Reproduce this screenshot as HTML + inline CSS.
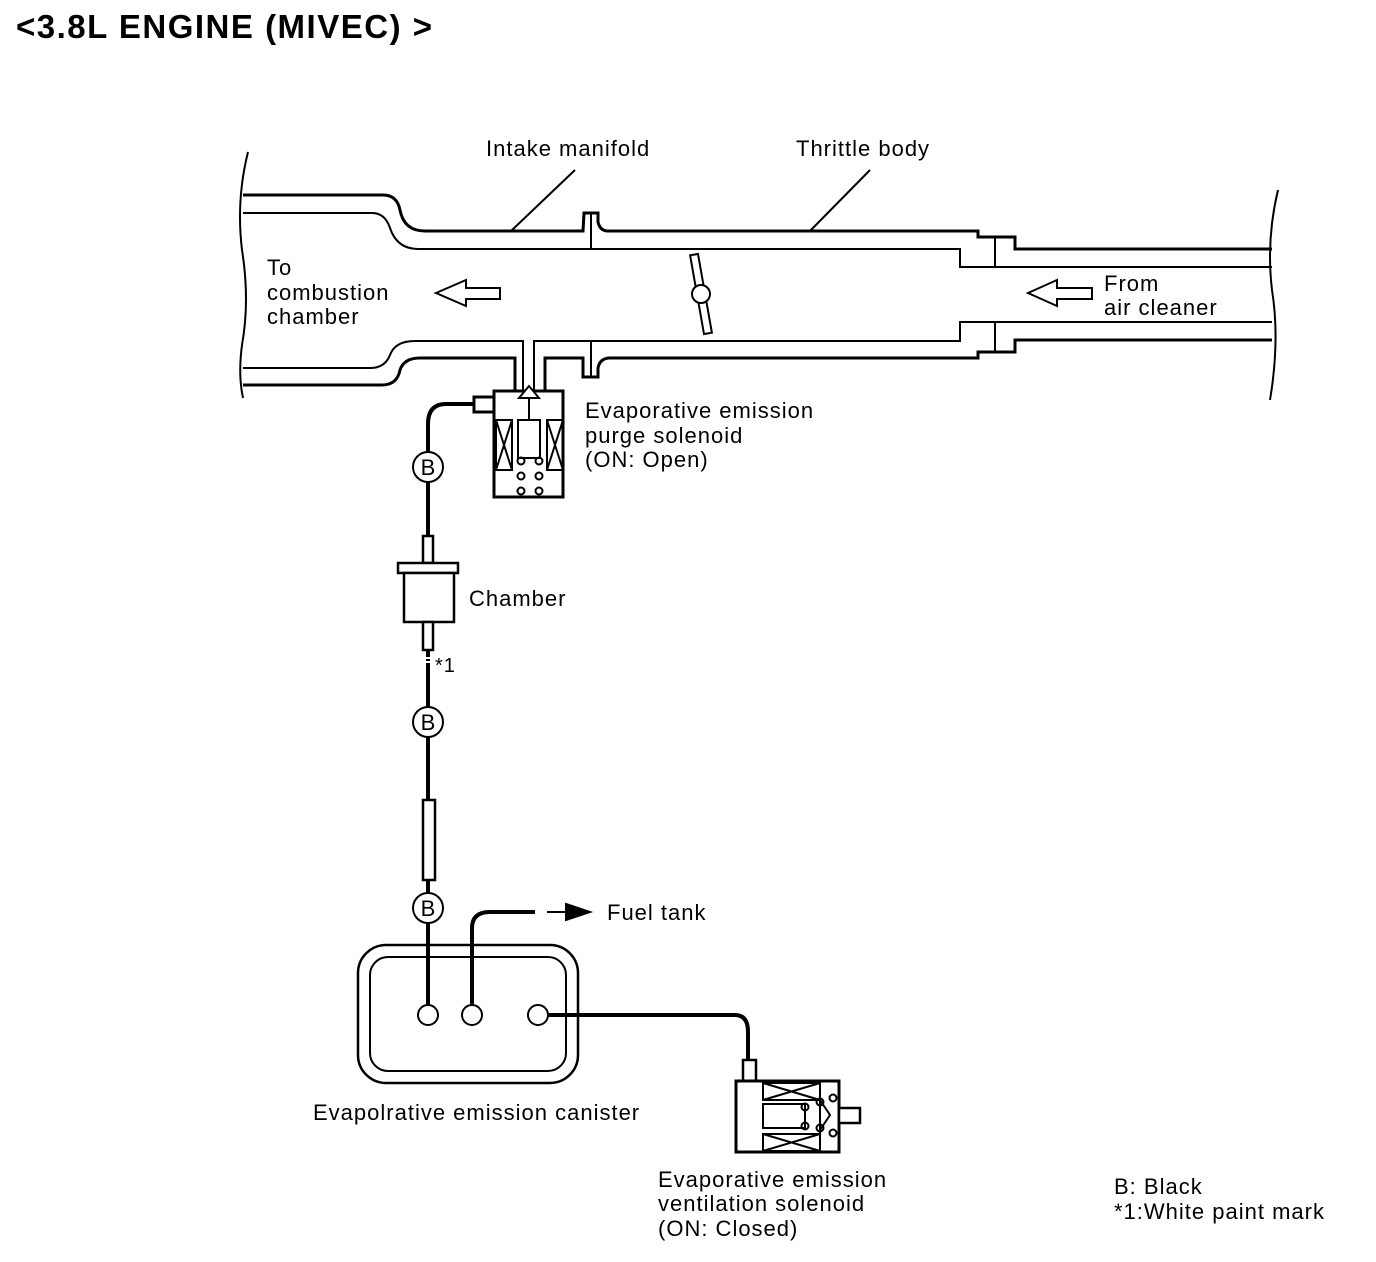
<!DOCTYPE html>
<html><head><meta charset="utf-8"><style>
html,body{margin:0;padding:0;background:#fff;}
svg{display:block;}
text{font-family:"Liberation Sans",Arial,sans-serif;font-size:22px;fill:#000;letter-spacing:1px;}
</style></head><body>
<svg width="1376" height="1262" viewBox="0 0 1376 1262" xmlns="http://www.w3.org/2000/svg">
<text x="16" y="38" style="font-size:33px;font-weight:bold;letter-spacing:1.5px">&lt;3.8L ENGINE (MIVEC) &gt;</text>
<g fill="none" stroke="#000" stroke-width="2">
<path d="M248 152 Q236 200 242 250 Q250 300 242 345 Q238 375 243 398"/>
<path d="M1278 190 Q1266 240 1272 290 Q1280 340 1270 400"/>
<path d="M243 195 L383 195 Q397 195 400 210 Q404 231 425 231 L583 231 Q584 213 584 213 L598 213 L598 222 Q600 231 608 231 L978 231 L978 237 L1015 237 L1015 249 L1272 249" stroke-width="3"/>
<path d="M243 213 L372 213 Q385 213 390 228 Q397 249 418 249 L960 249 L960 267 L1272 267"/>
<line x1="591" y1="213" x2="591" y2="249"/>
<line x1="995" y1="237" x2="995" y2="267"/>
<path d="M243 368 L370 368 Q385 368 390 355 Q395 341 415 341 L523 341 L523 390 M534 390 L534 341 L960 341 L960 322 L1272 322"/>
<path d="M243 385 L382 385 Q397 385 400 370 Q404 358 420 358 L515 358 L515 391 M545 391 L545 358 L583 358 L583 377 L598 377 L598 368 Q600 358 610 358 L978 358 L978 352 L1015 352 L1015 340 L1272 340" stroke-width="3"/>
<line x1="591" y1="341" x2="591" y2="377"/>
<line x1="995" y1="322" x2="995" y2="352"/>
<line x1="575" y1="170" x2="511" y2="231"/>
<line x1="870" y1="170" x2="810" y2="231"/>
<path d="M436 293 L466 280 L466 288 L500 288 L500 299 L466 299 L466 306 Z"/>
<path d="M1028 293 L1057 280 L1057 288 L1092 288 L1092 299 L1057 299 L1057 306 Z"/>
<g transform="rotate(-10 701 294)"><rect x="697" y="254" width="8" height="80" fill="#fff"/></g>
<circle cx="701" cy="294" r="9" fill="#fff"/>
<rect x="494" y="391" width="69" height="106" stroke-width="3" fill="#fff"/>
<rect x="474" y="397" width="20" height="15" stroke-width="3" fill="#fff"/>
<rect x="496" y="420" width="16" height="50"/><path d="M496 420 L512 470 M512 420 L496 470"/>
<rect x="547" y="420" width="16" height="50"/><path d="M547 420 L563 470 M563 420 L547 470"/>
<rect x="518" y="420" width="22" height="38"/>
<line x1="529" y1="420" x2="529" y2="398"/>
<path d="M519 398 L529 386 L539 398 Z" fill="#fff"/>
<circle cx="521" cy="461" r="3.5"/><circle cx="539" cy="461" r="3.5"/>
<circle cx="521" cy="476" r="3.5"/><circle cx="539" cy="476" r="3.5"/>
<circle cx="521" cy="491" r="3.5"/><circle cx="539" cy="491" r="3.5"/>
<path d="M474 404 L446 404 Q428 404 428 424 L428 536" stroke-width="4"/>
<path d="M428 650 L428 800 M428 880 L428 1005" stroke-width="4"/>
<rect x="423" y="536" width="10" height="27" stroke-width="2.5" fill="#fff"/>
<rect x="398" y="563" width="60" height="10" stroke-width="2.5" fill="#fff"/>
<rect x="404" y="573" width="50" height="49" stroke-width="2.5" fill="#fff"/>
<rect x="423" y="622" width="10" height="28" stroke-width="2.5" fill="#fff"/>
<rect x="423" y="800" width="12" height="80" stroke-width="2.5" fill="#fff"/>
<circle cx="428" cy="467" r="15" fill="#fff"/>
<circle cx="428" cy="722" r="15" fill="#fff"/>
<circle cx="428" cy="908" r="15" fill="#fff"/>
<rect x="358" y="945" width="220" height="138" rx="28" stroke-width="2.5"/>
<rect x="370" y="957" width="196" height="114" rx="18"/>
<path d="M472 1005 L472 928 Q472 912 490 912 L535 912" stroke-width="4"/>
<line x1="547" y1="912" x2="566" y2="912"/>
<path d="M566 904 L590 912 L566 920 Z" fill="#000"/>
<path d="M549 1015 L735 1015 Q748 1015 748 1032 L748 1060" stroke-width="4"/>
<circle cx="428" cy="1015" r="10" fill="#fff"/>
<circle cx="472" cy="1015" r="10" fill="#fff"/>
<circle cx="538" cy="1015" r="10" fill="#fff"/>
<rect x="743" y="1060" width="13" height="21" stroke-width="2.5" fill="#fff"/>
<rect x="736" y="1081" width="103" height="71" stroke-width="3" fill="#fff"/>
<rect x="839" y="1108" width="21" height="15" stroke-width="2.5" fill="#fff"/>
<rect x="763" y="1083" width="57" height="17"/><path d="M763 1083 L820 1100 M820 1083 L763 1100"/>
<rect x="763" y="1134" width="57" height="17"/><path d="M763 1134 L820 1151 M820 1134 L763 1151"/>
<line x1="820" y1="1083" x2="820" y2="1151"/>
<rect x="763" y="1104" width="42" height="24"/>
<path d="M820 1100 L830 1115 L820 1130"/>
<circle cx="805" cy="1107" r="3.5"/><circle cx="805" cy="1126" r="3.5"/>
<circle cx="820" cy="1102" r="3.5"/><circle cx="820" cy="1128" r="3.5"/>
<circle cx="833" cy="1098" r="3.5"/><circle cx="833" cy="1133" r="3.5"/>
</g>
<line x1="422" y1="658" x2="434" y2="658" stroke="#fff" stroke-width="2"/>
<line x1="422" y1="662" x2="434" y2="662" stroke="#fff" stroke-width="2"/>
<g>
<text x="486" y="156">Intake manifold</text>
<text x="796" y="156">Thrittle body</text>
<text x="267" y="275">To</text>
<text x="267" y="300">combustion</text>
<text x="267" y="324">chamber</text>
<text x="1104" y="291">From</text>
<text x="1104" y="315">air cleaner</text>
<text x="585" y="418">Evaporative emission</text>
<text x="585" y="443">purge solenoid</text>
<text x="585" y="467">(ON: Open)</text>
<text x="469" y="606">Chamber</text>
<text x="435" y="672" style="font-size:20px">*1</text>
<text x="607" y="920">Fuel tank</text>
<text x="313" y="1120">Evapolrative emission canister</text>
<text x="658" y="1187">Evaporative emission</text>
<text x="658" y="1211">ventilation solenoid</text>
<text x="658" y="1236">(ON: Closed)</text>
<text x="1114" y="1194">B: Black</text>
<text x="1114" y="1219">*1:White paint mark</text>
<text x="428" y="475" text-anchor="middle" style="letter-spacing:0">B</text>
<text x="428" y="730" text-anchor="middle" style="letter-spacing:0">B</text>
<text x="428" y="916" text-anchor="middle" style="letter-spacing:0">B</text>
</g>
</svg>
</body></html>
